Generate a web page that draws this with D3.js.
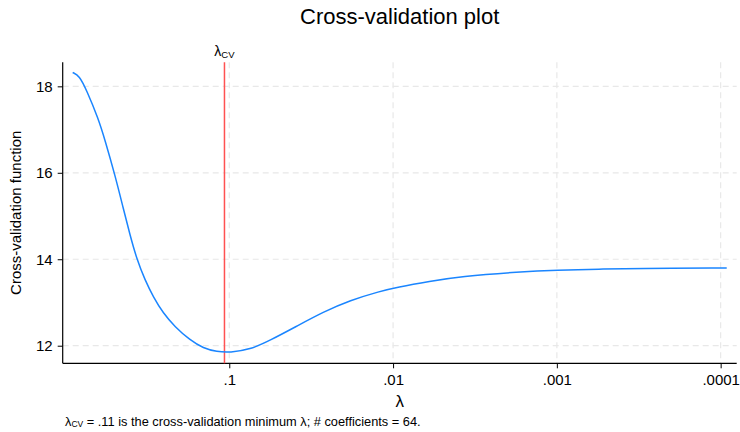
<!DOCTYPE html>
<html>
<head>
<meta charset="utf-8">
<script src="https://cdn.jsdelivr.net/npm/d3@7"></script>
<style>
  body { margin: 0; background: #fff; }
  svg { font-family: Arial, "Liberation Sans", sans-serif; }
</style>
</head>
<body>
<div id="chart"></div>
<script>
// values
var lambdas = [0.904, 0.824, 0.743, 0.631, 0.574, 0.499, 0.444, 0.405, 0.367, 0.327,
               0.291, 0.253, 0.215, 0.174, 0.144, 0.119, 0.0991, 0.0748, 0.0565,
               0.0388, 0.0267, 0.0183, 0.0120, 0.0095, 0.00596, 0.0039, 0.00168,
               0.001, 0.000546, 0.000326, 0.0000918];
var cvValues = [18.32, 18.25, 17.91, 17.26, 16.76, 15.95, 15.18, 14.58, 14.00, 13.52,
                13.13, 12.75, 12.44, 12.13, 11.94, 11.86, 11.84, 11.91, 12.12,
                12.45, 12.78, 13.05, 13.26, 13.35, 13.49, 13.60, 13.71,
                13.75, 13.77, 13.79, 13.80];
var xTicks = [0.1, 0.01, 0.001, 0.0001];
var xTickLabels = [".1", ".01", ".001", ".0001"];
var yTicks = [12, 14, 16, 18];
var lambdaCV = 0.107;

var svgWidth = 740;
var svgHeight = 432;
var margin = { left: 62.7, right: 3.3, top: 62.3, bottom: 68.7 };
var width = svgWidth - margin.left - margin.right;
var height = svgHeight - margin.top - margin.bottom;

var svg = d3.select("#chart").append("svg")
  .attr("width", svgWidth)
  .attr("height", svgHeight);

var chartGroup = svg.append("g")
  .attr("transform", `translate(${margin.left}, ${margin.top})`);

var xScale = d3.scaleLog()
  .domain([1.04, 0.0000798])
  .range([0, width]);

var yScale = d3.scaleLinear()
  .domain([11.593, 18.556])
  .range([height, 0]);

// grid
chartGroup.append("g").selectAll("line").data(xTicks).enter()
  .append("line")
  .attr("x1", d => xScale(d)).attr("x2", d => xScale(d))
  .attr("y1", 0).attr("y2", height)
  .attr("stroke", "#e8e8e8").attr("stroke-width", 1.2)
  .attr("stroke-dasharray", "6,4");

chartGroup.append("g").selectAll("line").data(yTicks).enter()
  .append("line")
  .attr("x1", 0).attr("x2", width)
  .attr("y1", d => yScale(d)).attr("y2", d => yScale(d))
  .attr("stroke", "#e8e8e8").attr("stroke-width", 1.2)
  .attr("stroke-dasharray", "6,4");

// axes
var xAxis = d3.axisBottom(xScale)
  .tickValues(xTicks)
  .tickFormat((d, i) => xTickLabels[i])
  .tickSize(5).tickPadding(6);
var yAxis = d3.axisLeft(yScale)
  .tickValues(yTicks)
  .tickFormat(d3.format("d"))
  .tickSize(5).tickPadding(5);

var gx = chartGroup.append("g")
  .attr("transform", "translate(0," + height + ")")
  .call(xAxis);
var gy = chartGroup.append("g").call(yAxis);

gx.select(".domain").attr("d", "M0,0H" + width);
gy.select(".domain").attr("d", "M0,0V" + height);
[gx, gy].forEach(function(g) {
  g.select(".domain").attr("stroke", "#000").attr("stroke-width", 1.2);
  g.selectAll(".tick line").attr("stroke", "#000").attr("stroke-width", 1);
  g.selectAll(".tick text").attr("font-size", "15px").attr("fill", "#000")
    .attr("font-family", "Arial, 'Liberation Sans', sans-serif");
});

// red line at lambda_cv
chartGroup.append("line")
  .attr("x1", xScale(lambdaCV)).attr("x2", xScale(lambdaCV))
  .attr("y1", 0).attr("y2", height)
  .attr("stroke", "#ff5252").attr("stroke-width", 1.5);

var lab = chartGroup.append("text")
  .attr("x", xScale(lambdaCV))
  .attr("y", -6)
  .attr("text-anchor", "middle")
  .attr("font-size", "14px");
lab.append("tspan").text("λ");
lab.append("tspan").attr("font-size", "9.5px").attr("dy", 2).text("CV");

// curve
var pts = lambdas.map((l, i) => [xScale(l), yScale(cvValues[i])]);
chartGroup.append("path")
  .attr("d", d3.line().curve(d3.curveBasis)(pts))
  .attr("fill", "none")
  .attr("stroke", "#1a85ff")
  .attr("stroke-width", 1.5);

// titles
svg.append("text")
  .attr("x", margin.left + width / 2)
  .attr("y", 24)
  .attr("text-anchor", "middle")
  .attr("font-size", "22px")
  .text("Cross-validation plot");

svg.append("text")
  .attr("x", margin.left + width / 2)
  .attr("y", 407)
  .attr("text-anchor", "middle")
  .attr("font-size", "17px")
  .text("λ");

svg.append("text")
  .attr("transform", `translate(21, ${margin.top + height / 2}) rotate(-90)`)
  .attr("text-anchor", "middle")
  .attr("font-size", "15px")
  .text("Cross-validation function");

var note = svg.append("text")
  .attr("x", 65)
  .attr("y", 426)
  .attr("font-size", "12.8px");
note.append("tspan").text("λ");
note.append("tspan").attr("font-size", "8.5px").attr("dy", 1).text("CV");
note.append("tspan").attr("dy", -1).text(" = .11 is the cross-validation minimum λ; # coefficients = 64.");
</script>
</body>
</html>
